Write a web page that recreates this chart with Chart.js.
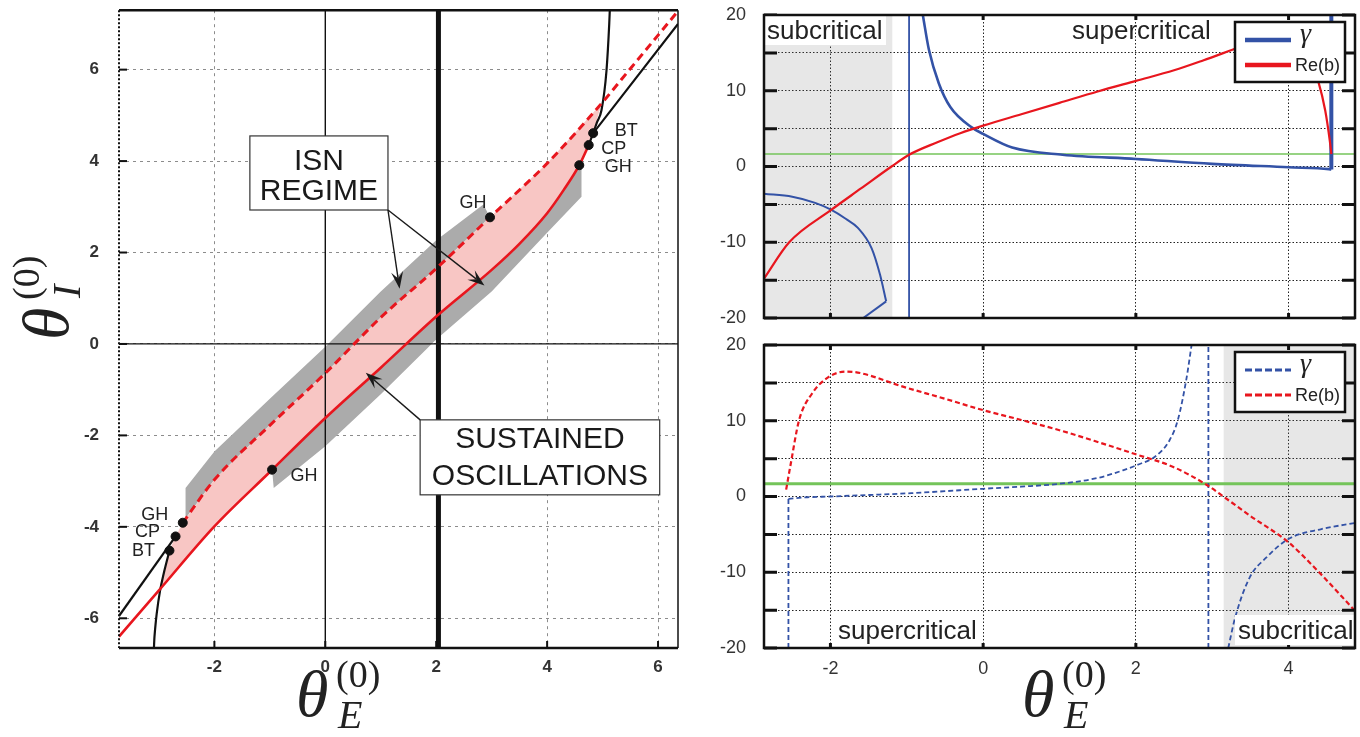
<!DOCTYPE html>
<html>
<head>
<meta charset="utf-8">
<script src="https://cdn.jsdelivr.net/npm/chart.js@4.4.1/dist/chart.umd.min.js"></script>
<style>
  body { margin: 0; background: #fff; width: 1360px; height: 737px; overflow: hidden; position: relative; }
  canvas { position: absolute; }
</style>
</head>
<body>
<canvas id="leftChart" width="700" height="737" style="left:0;top:0"></canvas>
<canvas id="topChart" width="660" height="335" style="left:700px;top:0"></canvas>
<canvas id="bottomChart" width="660" height="407" style="left:700px;top:330px"></canvas>
<script>
// ---- left panel: (theta_E, theta_I) bifurcation diagram ----
const leftXRange = [-3.72, 6.36];
const leftYRange = [-6.65, 7.30];
const leftXTicks = [-2, 0, 2, 4, 6];
const leftYTicks = [-6, -4, -2, 0, 2, 4, 6];

const redSolidX = [-3.72, -3, -2, -1, 0, 1, 2, 3, 3.5, 4, 4.3, 4.58, 4.75];
const redSolidY = [-6.40, -5.39, -3.99, -2.80, -1.62, -0.52, 0.60, 1.62, 2.19, 2.86, 3.37, 3.91, 4.35];
const redDashX = [-2.57, -2, -1, 0, 1, 2, 2.97, 4, 4.98, 5.5, 6.36];
const redDashY = [-3.91, -2.97, -1.78, -0.64, 0.58, 1.65, 2.77, 3.95, 5.26, 6.02, 7.28];
const blackLeftLineX = [-3.72, -2.70];
const blackLeftLineY = [-5.95, -4.21];
const blackLeftCurveX = [-2.81, -2.90, -2.98, -3.04, -3.08, -3.09];
const blackLeftCurveY = [-4.52, -4.95, -5.40, -5.90, -6.40, -6.65];
const blackRightLineX = [4.75, 4.83, 6.36];
const blackRightLineY = [4.35, 4.61, 7.00];
const blackSteepX = [4.83, 4.90, 4.98, 5.07, 5.12, 5.13];
const blackSteepY = [4.61, 4.85, 5.11, 5.97, 7.00, 7.30];
const pinkX = [-2.57, -2, -1, 0, 1, 2, 2.97, 4, 4.98, 4.83, 4.75, 4.58, 4.3, 4, 3.5, 3, 2, 1, 0, -0.96, -2, -3.0, -2.92, -2.81, -2.70];
const pinkY = [-3.91, -2.97, -1.78, -0.64, 0.58, 1.65, 2.77, 3.95, 5.26, 4.61, 4.35, 3.91, 3.37, 2.86, 2.19, 1.62, 0.60, -0.52, -1.62, -2.75, -3.99, -5.39, -5.00, -4.52, -4.21];
const grayUpperX = [-2.52, -2.52, -2, -1, 0, 1, 2, 2.85, 2.97, 2, 1, 0, -1, -2, -2.52];
const grayUpperY = [-3.82, -3.15, -2.35, -1.20, -0.06, 1.15, 2.27, 3.05, 2.77, 1.65, 0.58, -0.64, -1.78, -2.97, -3.82];
const grayLowerX = [-0.96, 0, 1, 2, 3, 4, 4.3, 4.62, 4.62, 4, 3, 2, 1, 0, -0.93];
const grayLowerY = [-2.75, -1.62, -0.52, 0.60, 1.62, 2.86, 3.37, 3.95, 3.22, 2.43, 1.15, 0.10, -1.10, -2.24, -3.15];
const refLineX = [0, 2.04];       // thin zero line, thick vertical line
const bifLabels = ['GH', 'CP', 'BT', 'GH', 'GH', 'GH', 'CP', 'BT'];
const bifX = [-2.57, -2.70, -2.81, -0.96, 2.97, 4.58, 4.75, 4.83];
const bifY = [-3.91, -4.21, -4.52, -2.75, 2.77, 3.91, 4.35, 4.61];

// ---- right panels: gamma and Re(b) versus theta_E ----
const rightXRange = [-2.87, 4.87];
const rightYRange = [-20, 20];
const rightXTicks = [-2, 0, 2, 4];
const rightYTicks = [-20, -15, -10, -5, 0, 5, 10, 15, 20];
const rightYTickLabels = ['-20', '', '-10', '', '0', '', '10', '', '20'];

const topShadeX = [-2.87, -1.19];
const topGreenLevel = 1.65;
const topBlueVertX = -0.97;
const topReX = [-2.87, -2.54, -2.0, -1.6, -1.2, -0.97, -0.6, -0.3, 0, 0.5, 1.0, 1.5, 2.0, 2.5, 2.88, 3.37, 3.6, 3.9, 4.1, 4.25, 4.39, 4.48, 4.54, 4.56];
const topReY = [-14.8, -10.0, -5.8, -2.9, 0.0, 1.55, 3.2, 4.4, 5.4, 6.9, 8.4, 9.9, 11.3, 12.7, 14.0, 15.8, 16.6, 17.3, 16.9, 15.0, 11.2, 7.4, 3.4, 1.65];
const topGammaLeftX = [-2.87, -2.5, -2.2, -2.0, -1.8, -1.64, -1.46, -1.35, -1.27];
const topGammaLeftY = [-3.6, -4.0, -4.8, -5.67, -6.9, -8.1, -10.8, -14.3, -17.8];
const topGammaTailX = [-1.27, -1.57];
const topGammaTailY = [-17.8, -20.0];
const topGammaRightX = [-0.79, -0.71, -0.58, -0.43, -0.14, 0, 0.38, 1.04, 2, 3, 4, 4.53, 4.56];
const topGammaRightY = [20.0, 15.4, 10.96, 7.85, 5.1, 4.3, 2.5, 1.56, 1.0, 0.35, -0.1, -0.35, -0.4];
const topGammaVertX = [4.56, 4.56];
const topGammaVertY = [-0.4, 20];

const botShadeX = [3.15, 4.87];
const botGreenLevel = 1.68;
const botBlueVertX = 2.95;
const botReX = [-2.58, -2.52, -2.41, -2.24, -2.05, -1.80, -1.61, -1.05, -0.5, 0, 0.5, 1.0, 1.5, 2.0, 2.49, 2.94, 3.16, 3.49, 4.0, 4.38, 4.87];
const botReY = [0.9, 4.3, 10.1, 13.6, 15.6, 16.5, 16.3, 14.5, 12.9, 11.4, 10.1, 8.75, 7.2, 5.57, 3.9, 1.46, -0.1, -2.5, -6.06, -9.8, -15.1];
const botGammaStemX = [-2.55, -2.55];
const botGammaStemY = [-20, -0.3];
const botGammaLeftX = [-2.55, -2.3, -2, -1.5, -0.94, -0.5, 0, 0.5, 1, 1.5, 1.83, 2.0, 2.27, 2.44, 2.55, 2.66, 2.73];
const botGammaLeftY = [-0.3, -0.1, 0.0, 0.2, 0.44, 0.7, 1.02, 1.3, 1.68, 2.45, 3.45, 4.1, 5.4, 7.4, 10.1, 15.4, 20];
const botGammaRightX = [3.21, 3.30, 3.49, 3.71, 4.0, 4.43, 4.87];
const botGammaRightY = [-20, -16, -10.7, -8.05, -5.6, -4.3, -3.5];

const legendLabels = ['γ', 'Re(b)'];

const RED = '#e8161e', BLUE = '#3352a6', GREEN = '#74c45a', BLACK = '#111';

Chart.defaults.font.family = '"Liberation Sans", Arial, sans-serif';

function pts(xs, ys) { return xs.map((x, i) => ({ x: x, y: ys[i] })); }
function line(xs, ys, color, width, extra) {
  return Object.assign({ data: pts(xs, ys), showLine: true, borderColor: color, borderWidth: width,
    pointRadius: 0, fill: false, tension: 0, order: 5 }, extra || {});
}
function smooth(xs, ys, color, width, extra) {
  return line(xs, ys, color, width, Object.assign({ cubicInterpolationMode: 'monotone' }, extra || {}));
}
function shape(xs, ys, color, order) {
  return { data: pts(xs, ys), showLine: true, borderWidth: 0, borderColor: 'rgba(0,0,0,0)',
    backgroundColor: color, fill: 'shape', pointRadius: 0, tension: 0, order: order };
}

function drawTheta(ctx, ox, oy, sub, angle) {
  ctx.save();
  ctx.translate(ox, oy);
  ctx.rotate(angle);
  ctx.fillStyle = '#222';
  ctx.textAlign = 'left';
  ctx.textBaseline = 'alphabetic';
  ctx.font = 'italic 66px "Liberation Serif"';
  ctx.fillText('θ', 0, 0);
  ctx.font = '38px "Liberation Serif"';
  ctx.fillText('(0)', 40, -29);
  ctx.font = 'italic 40px "Liberation Serif"';
  ctx.fillText(sub, 42, 12);
  ctx.restore();
}

function arrow(ctx, x1, y1, x2, y2) {
  const a = Math.atan2(y2 - y1, x2 - x1), L = 17, W = 6;
  const c = Math.cos(a), s = Math.sin(a);
  ctx.beginPath();
  ctx.moveTo(x1, y1);
  ctx.lineTo(x2 - L * 0.6 * c, y2 - L * 0.6 * s);
  ctx.stroke();
  ctx.beginPath();
  ctx.moveTo(x2, y2);
  ctx.lineTo(x2 - L * c + W * s, y2 - L * s - W * c);
  ctx.lineTo(x2 - L * 0.6 * c, y2 - L * 0.6 * s);
  ctx.lineTo(x2 - L * c - W * s, y2 - L * s + W * c);
  ctx.closePath();
  ctx.fill();
}

function edgeTicks(ctx, chart, xt, yt, lenY, lenX, width) {
  const a = chart.chartArea, sx = chart.scales.x, sy = chart.scales.y;
  ctx.strokeStyle = BLACK;
  ctx.lineWidth = width;
  yt.forEach(v => {
    const p = sy.getPixelForValue(v);
    ctx.beginPath();
    ctx.moveTo(a.left, p); ctx.lineTo(a.left + lenY, p);
    ctx.moveTo(a.right, p); ctx.lineTo(a.right - lenY, p);
    ctx.stroke();
  });
  xt.forEach(v => {
    const p = sx.getPixelForValue(v);
    ctx.beginPath();
    ctx.moveTo(p, a.bottom); ctx.lineTo(p, a.bottom - lenX);
    ctx.moveTo(p, a.top); ctx.lineTo(p, a.top + lenX);
    ctx.stroke();
  });
}

// annotations of the left panel (data coordinates)
const leftBoxes = [
  { lines: ['ISN', 'REGIME'], x0: -1.36, x1: 1.13, y0: 4.55, y1: 2.93, gap: 30, shift: 4 },
  { lines: ['SUSTAINED', 'OSCILLATIONS'], x0: 1.71, x1: 6.03, y0: -1.66, y1: -3.30, gap: 37, shift: 1 }
];
const leftArrows = [[1.13, 2.93, 1.34, 1.21], [1.13, 2.93, 2.87, 1.28], [1.71, -1.66, 0.73, -0.63]];
const bifLabelOffsets = [[-28, -8], [-28, -4], [-26, 0], [32, 6], [-17, -14], [39, 2], [25, 4], [33, -2]];

const leftDecor = {
  id: 'leftDecor',
  afterDraw(chart) {
    const ctx = chart.ctx, a = chart.chartArea, sx = chart.scales.x, sy = chart.scales.y;
    ctx.save();
    // frame
    ctx.strokeStyle = BLACK;
    ctx.lineWidth = 2.5;
    ctx.beginPath();
    ctx.moveTo(a.left, a.top); ctx.lineTo(a.right, a.top);
    ctx.moveTo(a.left, a.bottom); ctx.lineTo(a.right, a.bottom);
    ctx.stroke();
    ctx.lineWidth = 1.5;
    ctx.beginPath(); ctx.moveTo(a.right, a.top); ctx.lineTo(a.right, a.bottom); ctx.stroke();
    ctx.setLineDash([2, 2]);
    ctx.lineWidth = 2;
    ctx.beginPath(); ctx.moveTo(a.left, a.top); ctx.lineTo(a.left, a.bottom); ctx.stroke();
    ctx.setLineDash([]);
    // small ticks on left and bottom edges
    ctx.lineWidth = 2;
    leftYTicks.forEach(v => {
      const p = sy.getPixelForValue(v);
      ctx.beginPath(); ctx.moveTo(a.left, p); ctx.lineTo(a.left + 8, p); ctx.stroke();
    });
    leftXTicks.forEach(v => {
      const p = sx.getPixelForValue(v);
      ctx.beginPath(); ctx.moveTo(p, a.bottom); ctx.lineTo(p, a.bottom - 7); ctx.stroke();
    });
    // text boxes
    leftBoxes.forEach(b => {
      const x0 = sx.getPixelForValue(b.x0), x1 = sx.getPixelForValue(b.x1);
      const y0 = sy.getPixelForValue(b.y0), y1 = sy.getPixelForValue(b.y1);
      ctx.fillStyle = '#fff';
      ctx.fillRect(x0, y0, x1 - x0, y1 - y0);
      ctx.strokeStyle = '#333';
      ctx.lineWidth = 1.2;
      ctx.strokeRect(x0, y0, x1 - x0, y1 - y0);
      ctx.fillStyle = '#1a1a1a';
      ctx.font = '30px "Liberation Sans"';
      ctx.textAlign = 'center';
      ctx.textBaseline = 'middle';
      const cx = (x0 + x1) / 2, cy = (y0 + y1) / 2 + b.shift;
      ctx.fillText(b.lines[0], cx, cy - b.gap / 2);
      ctx.fillText(b.lines[1], cx, cy + b.gap / 2);
    });
    // arrows
    ctx.strokeStyle = '#1a1a1a';
    ctx.fillStyle = '#1a1a1a';
    ctx.lineWidth = 1.4;
    leftArrows.forEach(r => arrow(ctx, sx.getPixelForValue(r[0]), sy.getPixelForValue(r[1]),
      sx.getPixelForValue(r[2]), sy.getPixelForValue(r[3])));
    // bifurcation labels
    ctx.font = '18px "Liberation Sans"';
    ctx.fillStyle = '#222';
    ctx.textAlign = 'center';
    ctx.textBaseline = 'middle';
    bifLabels.forEach((t, i) => {
      ctx.fillText(t, sx.getPixelForValue(bifX[i]) + bifLabelOffsets[i][0],
        sy.getPixelForValue(bifY[i]) + bifLabelOffsets[i][1]);
    });
    // axis titles
    drawTheta(ctx, 296, 716, 'E', 0);
    drawTheta(ctx, 68, 340, 'I', -Math.PI / 2);
    ctx.restore();
  }
};

function makeRightDecor(cfg) {
  return {
    id: 'rightDecor',
    afterDraw(chart) {
      const ctx = chart.ctx, a = chart.chartArea;
      ctx.save();
      edgeTicks(ctx, chart, rightXTicks, rightYTicks, 13, 5, 3);
      // region labels
      ctx.font = '26px "Liberation Sans"';
      ctx.textAlign = 'left';
      ctx.textBaseline = 'alphabetic';
      cfg.texts.forEach(t => {
        const x = a.left + t.dx, y = (t.fromBottom ? a.bottom : a.top) + t.dy;
        if (t.bg) {
          ctx.fillStyle = '#fff';
          ctx.fillRect(x - 3, y - 24, t.bg, 30);
        }
        ctx.fillStyle = '#222';
        ctx.fillText(t.text, x, y);
      });
      // legend
      const bw = 110, bh = 60, bx = a.right - bw - 10, by = a.top + 7;
      ctx.fillStyle = '#fff';
      ctx.fillRect(bx, by, bw, bh);
      ctx.strokeStyle = BLACK;
      ctx.lineWidth = 2.5;
      ctx.strokeRect(bx, by, bw, bh);
      const cols = [BLUE, RED], ly = [18, 43];
      cols.forEach((c, i) => {
        ctx.strokeStyle = c;
        ctx.lineWidth = cfg.dashed ? 3 : 4.5;
        ctx.setLineDash(cfg.dashed ? [7, 3] : []);
        ctx.beginPath();
        ctx.moveTo(bx + 10, by + ly[i]); ctx.lineTo(bx + 56, by + ly[i]);
        ctx.stroke();
      });
      ctx.setLineDash([]);
      ctx.fillStyle = '#222';
      ctx.font = 'italic 28px "Liberation Serif"';
      ctx.fillText(legendLabels[0], bx + 65, by + 20);
      ctx.font = '18px "Liberation Sans"';
      ctx.fillText(legendLabels[1], bx + 60, by + 49);
      // frame
      ctx.strokeStyle = BLACK;
      ctx.lineWidth = 2.5;
      ctx.strokeRect(a.left, a.top, a.right - a.left, a.bottom - a.top);
      if (cfg.title) drawTheta(ctx, 322, 386, 'E', 0);
      ctx.restore();
    }
  };
}

// label gaps come from invisible tick marks so the scale keeps no extra padding
function axes(xr, yr, xt, yt, opts) {
  return {
    x: { type: 'linear', min: xr[0], max: xr[1],
      afterBuildTicks: s => { s.ticks = xt.map(v => ({ value: v })); },
      afterFit: s => { s.height = opts.xHeight; },
      grid: { color: opts.gridColor, lineWidth: 1, drawTicks: true, tickLength: opts.xPad, tickColor: 'rgba(0,0,0,0)' },
      border: { display: false, dash: opts.dash },
      ticks: { display: opts.xLabels, padding: 0, color: '#333', font: opts.font } },
    y: { type: 'linear', min: yr[0], max: yr[1],
      afterBuildTicks: s => { s.ticks = yt.map(v => ({ value: v })); },
      afterFit: s => { s.width = opts.yWidth; },
      grid: { color: opts.gridColor, lineWidth: 1, drawTicks: true, tickLength: opts.yPad, tickColor: 'rgba(0,0,0,0)' },
      border: { display: false, dash: opts.dash },
      ticks: { padding: 0, color: '#333', font: opts.font,
        callback: opts.yLabel || (v => String(v)) } }
  };
}

const commonOpts = { responsive: false, animation: false, events: [],
  plugins: { legend: { display: false }, tooltip: { enabled: false } } };

// left chart
new Chart(document.getElementById('leftChart'), {
  type: 'scatter',
  data: { datasets: [
    shape(grayUpperX, grayUpperY, '#ababab', 30),
    shape(grayLowerX, grayLowerY, '#ababab', 30),
    shape(pinkX, pinkY, '#f8c6c4', 25),
    line([refLineX[0], refLineX[0]], leftYRange, BLACK, 1.4, { order: 20 }),
    line(leftXRange, [0, 0], BLACK, 1.2, { order: 20 }),
    line([refLineX[1], refLineX[1]], leftYRange, BLACK, 5, { order: 19 }),
    line(blackLeftLineX, blackLeftLineY, BLACK, 2.2),
    line(blackLeftCurveX, blackLeftCurveY, BLACK, 2.2, { tension: 0.25 }),
    line(blackRightLineX, blackRightLineY, BLACK, 2.2),
    smooth(blackSteepX, blackSteepY, BLACK, 2.2),
    smooth(redSolidX, redSolidY, RED, 2.6, { order: 4 }),
    smooth(redDashX, redDashY, RED, 3, { order: 4, borderDash: [8, 5] }),
    { data: pts(bifX, bifY), pointRadius: 4.5, backgroundColor: BLACK, borderColor: BLACK, order: 0 }
  ] },
  options: Object.assign({}, commonOpts, {
    layout: { padding: { left: 0, right: 22, top: 10, bottom: 0 } },
    scales: axes(leftXRange, leftYRange, leftXTicks, leftYTicks, {
      xHeight: 89, yWidth: 119, gridColor: '#8c8c8c', dash: [3, 4], xLabels: true,
      xPad: 9, yPad: 20, font: { size: 17, weight: 'bold' } })
  }),
  plugins: [leftDecor]
});

// top right chart (solid lines)
new Chart(document.getElementById('topChart'), {
  type: 'scatter',
  data: { datasets: [
    shape([topShadeX[0], topShadeX[1], topShadeX[1], topShadeX[0]],
      [rightYRange[0], rightYRange[0], rightYRange[1], rightYRange[1]], 'rgba(110,110,110,0.17)', 30),
    line(rightXRange, [topGreenLevel, topGreenLevel], GREEN, 1.6, { order: 8 }),
    line([topBlueVertX, topBlueVertX], rightYRange, BLUE, 1.8, { order: 7 }),
    smooth(topGammaLeftX, topGammaLeftY, BLUE, 2),
    line(topGammaTailX, topGammaTailY, BLUE, 2),
    smooth(topGammaRightX, topGammaRightY, BLUE, 2.6),
    line(topGammaVertX, topGammaVertY, BLUE, 4),
    smooth(topReX, topReY, RED, 2.2, { order: 4 })
  ] },
  options: Object.assign({}, commonOpts, {
    layout: { padding: { left: 0, right: 5, top: 15, bottom: 0 } },
    scales: axes(rightXRange, rightYRange, rightXTicks, rightYTicks, {
      xHeight: 17, yWidth: 64, gridColor: '#222', dash: [1.5, 2], xLabels: false,
      xPad: 10, yPad: 18, font: { size: 18 },
      yLabel: v => rightYTickLabels[rightYTicks.indexOf(v)] })
  }),
  plugins: [makeRightDecor({ dashed: false, title: false, texts: [
    { text: 'subcritical', dx: 3, dy: 24, bg: 122 },
    { text: 'supercritical', dx: 308, dy: 24 }
  ] })]
});

// bottom right chart (dashed lines)
new Chart(document.getElementById('bottomChart'), {
  type: 'scatter',
  data: { datasets: [
    shape([botShadeX[0], botShadeX[1], botShadeX[1], botShadeX[0]],
      [rightYRange[0], rightYRange[0], rightYRange[1], rightYRange[1]], 'rgba(110,110,110,0.17)', 30),
    line(rightXRange, [botGreenLevel, botGreenLevel], GREEN, 3, { order: 8 }),
    line([botBlueVertX, botBlueVertX], rightYRange, BLUE, 1.8, { order: 7, borderDash: [5, 3] }),
    line(botGammaStemX, botGammaStemY, BLUE, 1.8, { borderDash: [5, 3] }),
    smooth(botGammaLeftX, botGammaLeftY, BLUE, 1.8, { borderDash: [5, 3] }),
    smooth(botGammaRightX, botGammaRightY, BLUE, 1.8, { borderDash: [5, 3] }),
    smooth(botReX, botReY, RED, 2.2, { order: 4, borderDash: [5, 3] })
  ] },
  options: Object.assign({}, commonOpts, {
    layout: { padding: { left: 0, right: 5, top: 15, bottom: 0 } },
    scales: axes(rightXRange, rightYRange, rightXTicks, rightYTicks, {
      xHeight: 89, yWidth: 64, gridColor: '#222', dash: [1.5, 2], xLabels: true,
      xPad: 10, yPad: 18, font: { size: 18 },
      yLabel: v => rightYTickLabels[rightYTicks.indexOf(v)] })
  }),
  plugins: [makeRightDecor({ dashed: true, title: true, texts: [
    { text: 'supercritical', dx: 74, dy: -9, fromBottom: true },
    { text: 'subcritical', dx: 474, dy: -9, fromBottom: true, bg: 122 }
  ] })]
});
</script>
</body>
</html>
